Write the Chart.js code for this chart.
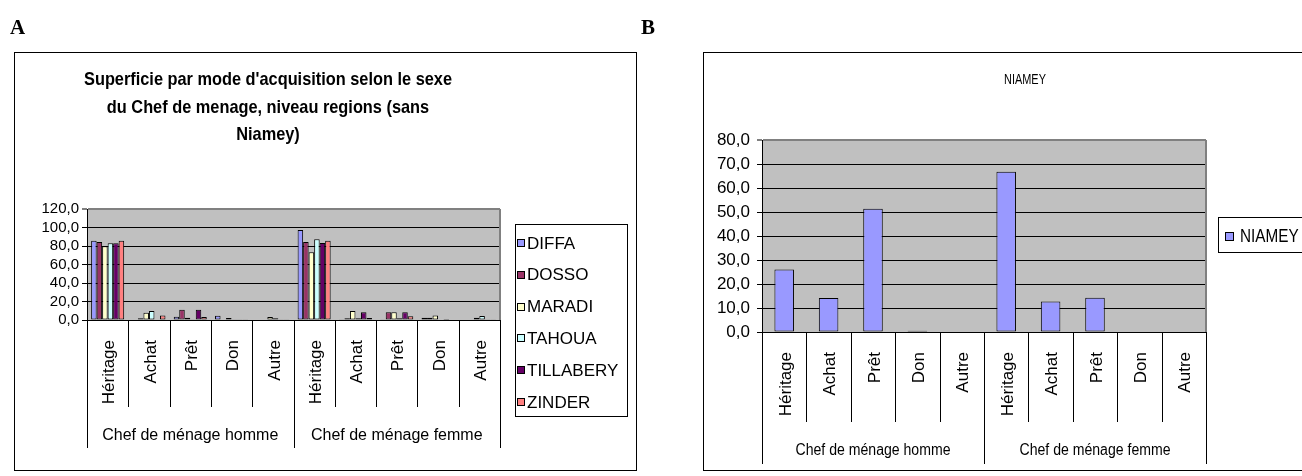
<!DOCTYPE html>
<html><head><meta charset="utf-8">
<script src="https://cdn.jsdelivr.net/npm/chart.js@4.4.0/dist/chart.umd.min.js"></script>
<style>
html,body{margin:0;padding:0;background:#fff;width:1302px;height:476px;overflow:hidden;}
canvas{position:absolute;left:0;top:0;}
</style></head><body>
<canvas id="cA" width="1302" height="476"></canvas>
<canvas id="cB" width="1302" height="476"></canvas>
<script>
// ---------- data ----------
const modes = ["Héritage", "Achat", "Prêt", "Don", "Autre"];
const groups = ["Chef de ménage homme", "Chef de ménage femme"];
const regions = ["DIFFA", "DOSSO", "MARADI", "TAHOUA", "TILLABERY", "ZINDER"];
// order: homme (Héritage, Achat, Prêt, Don, Autre), femme (Héritage, Achat, Prêt, Don, Autre)
const diffa     = [85.7, 0.5, 3.6, 4.7, 0.5,   97.3, 0.3, 0.3, 2.5, 0.0];
const dosso     = [84.3, 2.0, 11.2, 0.5, 0.5,  84.3, 2.0, 8.3, 2.5, 0.0];
const maradi    = [79.6, 7.9, 2.5, 2.2, 3.2,   73.2, 9.7, 8.3, 5.0, 2.5];
const tahoua    = [82.9, 9.7, 0.8, 0.7, 1.8,   87.2, 1.8, 1.8, 0.0, 4.3];
const tillabery = [82.9, 0.5, 11.2, 0.7, 0.8,  83.2, 8.3, 8.3, 1.1, 0.8];
const zinder    = [85.7, 5.0, 3.2, 0.7, 0.8,   85.7, 2.2, 4.0, 0.0, 0.8];
const niamey    = [26.0, 14.2, 51.4, 0.5, 0.0, 66.8, 12.7, 14.3, 0.0, 0.0];
const yTicksA = [0, 20, 40, 60, 80, 100, 120];
const yTicksB = [0, 10, 20, 30, 40, 50, 60, 70, 80];
const titleA = ["Superficie par mode d'acquisition selon le sexe", "du Chef de menage, niveau regions (sans", "Niamey)"];
const titleB = ["NIAMEY"];
const colorsA = ["#9999FF", "#993366", "#FFFFCC", "#CCFFFF", "#660066", "#FF8080"];
const colorB = "#9999FF";

// ---------- helpers ----------
const SANS = "'Liberation Sans', Arial, sans-serif";
const labels = groups.flatMap(() => modes.slice());
const fmt = v => Number(v).toFixed(1).replace('.', ',');

function txt(ctx, s, x, y, font, align, base, sx) {
  ctx.save();
  ctx.font = font; ctx.textAlign = align; ctx.textBaseline = base;
  ctx.translate(x, y); ctx.scale(sx || 1, 1);
  ctx.fillText(s, 0, 0);
  ctx.restore();
}

const decor = {
  id: 'decor',
  beforeDraw(chart, args, o) {
    const { ctx, chartArea: a } = chart;
    ctx.save();
    ctx.fillStyle = '#C0C0C0';
    ctx.fillRect(a.left, a.top, a.right - a.left, a.bottom - a.top);
    ctx.restore();
  },
  afterDraw(chart, args, o) {
    const { ctx, chartArea: a } = chart;
    const xs = chart.scales.x;
    ctx.save();
    ctx.fillStyle = '#000';
    // outer box
    ctx.strokeStyle = '#000'; ctx.lineWidth = 1;
    ctx.strokeRect(o.box[0] + 0.5, o.box[1] + 0.5, o.box[2], o.box[3]);
    // panel letter
    txt(ctx, o.letter[0], o.letter[1], o.letter[2], "bold 21px 'Liberation Serif', 'Times New Roman', serif", 'left', 'alphabetic');
    // title
    ctx.font = o.titleFont;
    const sx = o.titleW ? o.titleW / ctx.measureText(o.title[0]).width : (o.titleSx || 1);
    o.title.forEach((line, i) => txt(ctx, line, o.titleX, o.titleY[i], o.titleFont, 'center', 'middle', sx));
    // plot right border (gray)
    ctx.strokeStyle = '#808080'; ctx.lineWidth = 2;
    ctx.beginPath(); ctx.moveTo(a.right, a.top); ctx.lineTo(a.right, a.bottom); ctx.stroke();
    // x axis line
    ctx.strokeStyle = '#000'; ctx.lineWidth = 1;
    const yb = Math.round(a.bottom) + 0.5;
    ctx.beginPath(); ctx.moveTo(a.left, yb); ctx.lineTo(a.right, yb); ctx.stroke();
    // category separators
    const n = labels.length, slot = (a.right - a.left) / n;
    for (let k = 0; k <= n; k++) {
      const x = Math.round(a.left + k * slot) + 0.5;
      const len = (k % modes.length === 0) ? o.fullLen : o.innerLen;
      ctx.beginPath(); ctx.moveTo(x, a.bottom); ctx.lineTo(x, a.bottom + len); ctx.stroke();
    }
    // rotated category labels
    labels.forEach((lab, i) => {
      const x = xs.getPixelForValue(i);
      ctx.save();
      ctx.translate(x + 2, a.bottom + o.labGap);
      ctx.rotate(-Math.PI / 2);
      ctx.font = o.labFont; ctx.textAlign = 'right'; ctx.textBaseline = 'middle';
      ctx.fillText(lab, 0, 0);
      ctx.restore();
    });
    // group labels
    groups.forEach((g, gi) => {
      const cx = a.left + (gi * modes.length + modes.length / 2) * slot;
      txt(ctx, g, cx, o.groupY, o.groupFont, 'center', 'middle', o.groupSx);
    });
    // legend
    const L = o.legend;
    ctx.strokeStyle = '#000'; ctx.lineWidth = 1;
    ctx.strokeRect(L.box[0] + 0.5, L.box[1] + 0.5, L.box[2], L.box[3]);
    chart.data.datasets.forEach((ds, i) => {
      const y = L.y0 + i * L.dy;
      ctx.fillStyle = ds.backgroundColor;
      ctx.fillRect(L.mx, Math.round(y - L.ms / 2), L.ms, L.ms);
      ctx.strokeStyle = '#000';
      ctx.strokeRect(L.mx + 0.5, Math.round(y - L.ms / 2) + 0.5, L.ms - 1, L.ms - 1);
      ctx.fillStyle = '#000';
      txt(ctx, ds.label, L.tx, y + 1, L.font, 'left', 'middle', L.sx);
    });
    ctx.restore();
  }
};

function makeChart(id, cfg) {
  const yMax = cfg.ticks[cfg.ticks.length - 1];
  return new Chart(document.getElementById(id), {
    type: 'bar',
    data: { labels: labels, datasets: cfg.datasets },
    options: {
      responsive: false, animation: false, devicePixelRatio: 1,
      layout: { padding: cfg.padding },
      datasets: { bar: { categoryPercentage: cfg.catPct, barPercentage: cfg.barPct, borderColor: '#000', borderWidth: 1, borderSkipped: false } },
      plugins: { legend: { display: false }, title: { display: false }, tooltip: { enabled: false }, decor: cfg.decor },
      scales: {
        x: {
          type: 'category', offset: true,
          grid: { display: false }, border: { display: false },
          ticks: { display: false },
          afterFit: s => { s.height = 0; }
        },
        y: {
          min: 0, max: yMax,
          afterBuildTicks: s => { s.ticks = cfg.ticks.map(v => ({ value: v })); },
          afterFit: s => { s.width = cfg.yWidth; },
          grid: {
            color: c => (c.tick && c.tick.value === yMax) ? '#808080' : '#000',
            lineWidth: c => (c.tick && c.tick.value === yMax) ? 2 : 1,
            tickLength: 5, drawTicks: true
          },
          border: { display: true, color: '#000', width: 1 },
          ticks: { color: '#000', autoSkip: false, padding: cfg.tickPad, font: { family: SANS, size: cfg.tickSize }, callback: v => fmt(v) }
        }
      }
    },
    plugins: [decor]
  });
}

const seriesA = [diffa, dosso, maradi, tahoua, tillabery, zinder];

makeChart('cA', {
  datasets: regions.map((r, i) => ({ label: r, data: seriesA[i], backgroundColor: colorsA[i] })),
  ticks: yTicksA,
  padding: { left: 0, top: 209, right: 1302 - 500, bottom: 476 - 320 },
  yWidth: 87, tickPad: 3, tickSize: 15,
  catPct: 0.8, barPct: 1.0,
  decor: {
    box: [14, 52, 622, 418], letter: ['A', 10, 34],
    title: titleA, titleFont: "bold 19px " + SANS, titleW: 368, titleX: 268, titleY: [80, 108, 135],
    fullLen: 128, innerLen: 87, labGap: 20, labFont: "17px " + SANS,
    groupY: 436, groupFont: "16px " + SANS, groupSx: 1,
    legend: { box: [515, 224, 112, 192], y0: 243, dy: 31.8, mx: 517, ms: 8, tx: 527, font: "17px " + SANS, sx: 1 }
  }
});

makeChart('cB', {
  datasets: [{ label: 'NIAMEY', data: niamey, backgroundColor: colorB }],
  ticks: yTicksB,
  padding: { left: 703, top: 140, right: 1302 - 1206, bottom: 476 - 332 },
  yWidth: 59, tickPad: 7, tickSize: 17,
  catPct: 1.0, barPct: 0.44,
  decor: {
    box: [703, 52, 605, 418], letter: ['B', 641, 34],
    title: titleB, titleFont: "14px " + SANS, titleSx: 0.78, titleX: 1025, titleY: [80],
    fullLen: 132, innerLen: 90, labGap: 20, labFont: "17px " + SANS,
    groupY: 451, groupFont: "16px " + SANS, groupSx: 0.88,
    legend: { box: [1218, 217, 100, 35], y0: 236, dy: 0, mx: 1225, ms: 9, tx: 1240, font: "18px " + SANS, sx: 0.85 }
  }
});
</script>
</body></html>
